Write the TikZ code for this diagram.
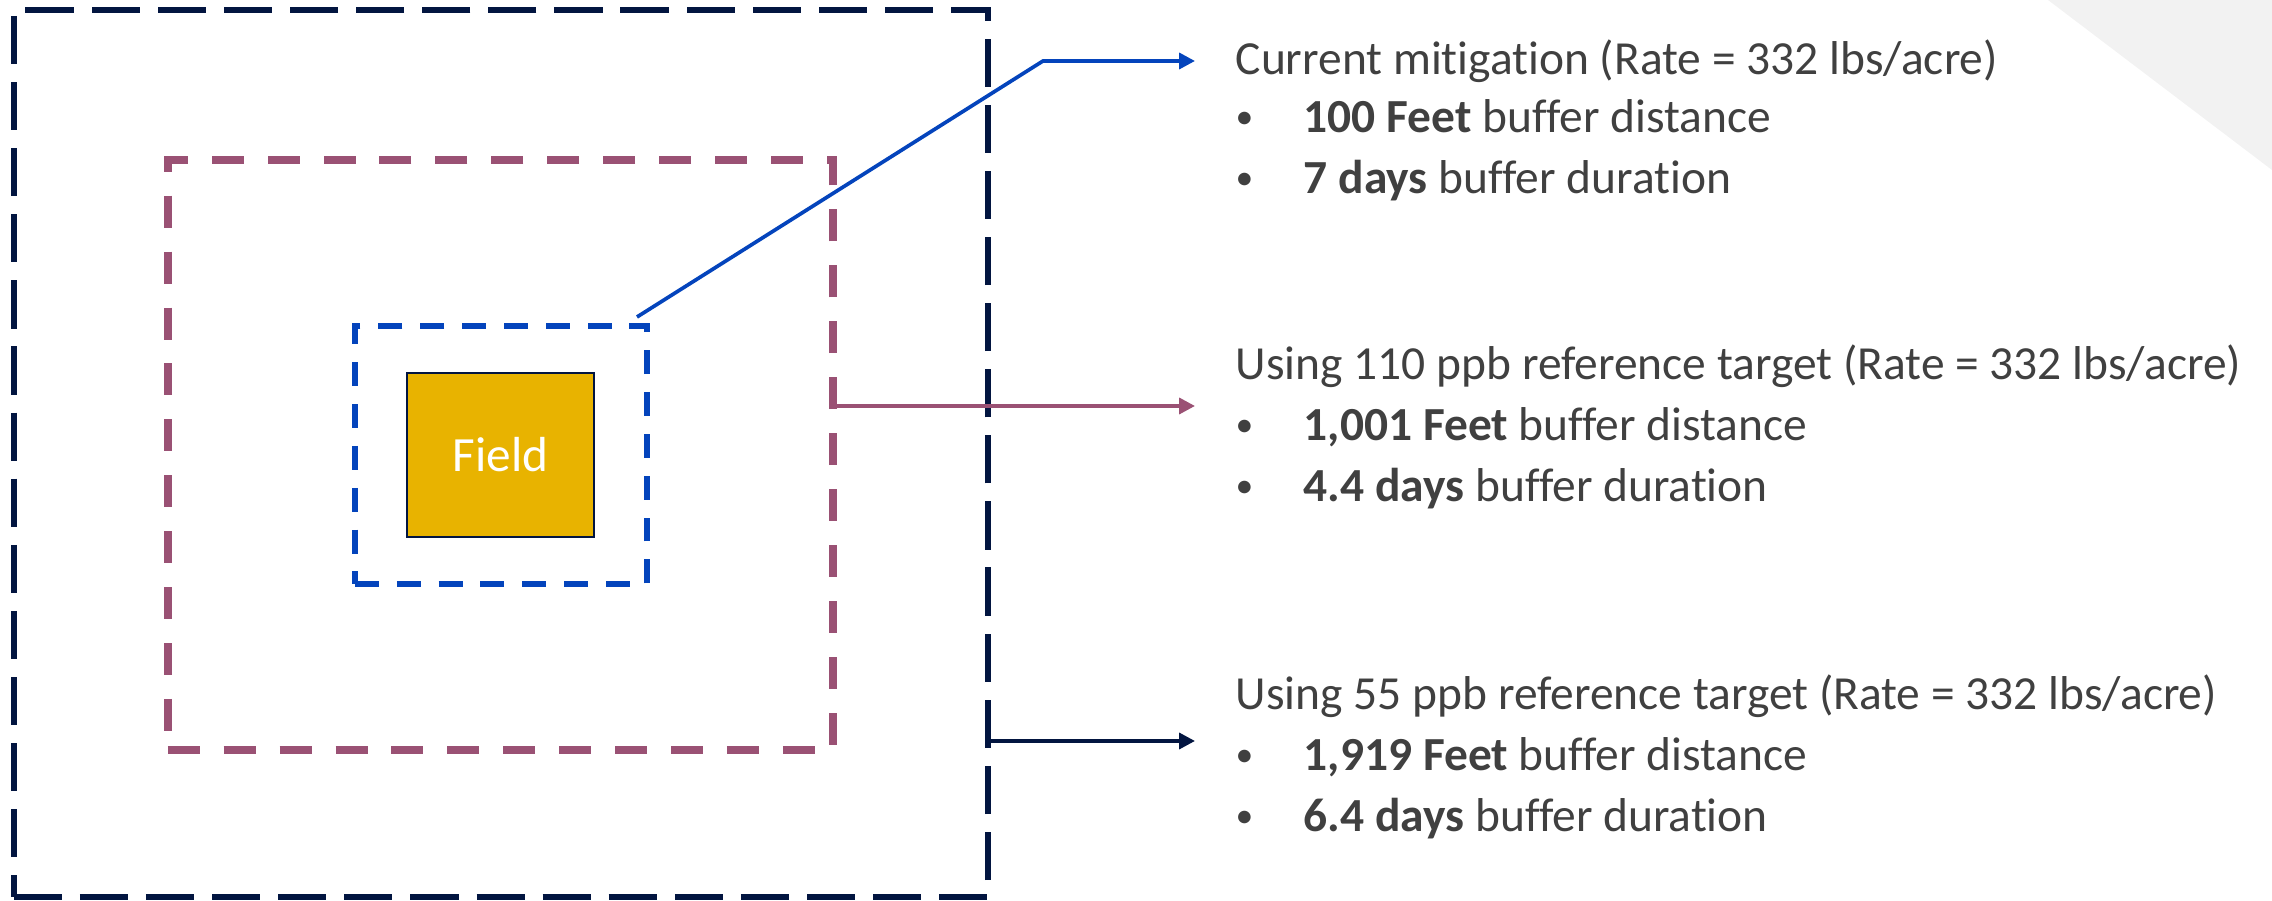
\documentclass[tikz,border=0pt]{standalone}
\usepackage{fontspec}
\setmainfont{Carlito}[Ligatures=NoCommon]
\usetikzlibrary{arrows.meta}
\definecolor{navy}{HTML}{021540}
\definecolor{mauve}{HTML}{9A5174}
\definecolor{royal}{HTML}{0444BC}
\definecolor{gold}{HTML}{E8B300}
\definecolor{textgray}{HTML}{404040}
\definecolor{cornergray}{HTML}{F2F2F2}
\tikzstyle{outerbox} = [rectangle, draw=navy, line width=1.7pt, dash pattern=on 13.7pt off 5.1pt]
\tikzstyle{middlebox} = [rectangle, draw=mauve, line width=2.3pt, dash pattern=on 9.1pt off 6.8pt]
\tikzstyle{innerbox} = [rectangle, draw=royal, line width=1.7pt, dash pattern=on 6.8pt off 5.1pt]
\tikzstyle{fieldbox} = [rectangle, draw=navy, line width=0.7pt, fill=gold, text=white, minimum width=1.87cm, minimum height=1.64cm, font=\fontsize{14}{17}\selectfont]
\tikzstyle{label} = [anchor=base west, inner sep=0pt, text=textgray, font=\fontsize{13.5}{16}\selectfont]
\tikzstyle{arrow} = [line width=1.05pt, -{Triangle[length=4.5pt,width=4.5pt]}]
\newcommand{\bul}{\makebox[0.68cm][l]{\raisebox{1.2pt}{\scalebox{0.75}{\textbullet}}}}

\begin{document}
\begin{tikzpicture}[x=0.01cm, y=-0.01cm]
\useasboundingbox (0,0) rectangle (2272,901);
\fill[cornergray] (2048,0) -- (2272,0) -- (2272,170) -- cycle;

% nested buffer zones
\node (outer) [outerbox, minimum width=9.74cm, minimum height=8.87cm] at (501,453.5) {};
\node (middle) [middlebox, minimum width=6.65cm, minimum height=5.9cm] at (500.5,455) {};
\node (inner) [innerbox, minimum width=2.92cm, minimum height=2.58cm] at (501,455) {};
\node (field) [fieldbox] at (500.5,455) {Field};

% descriptions
\node (cur) [label] at (1235,75) {Current mitigation (Rate = 332 lbs/acre)};
\node (cura) [label] at (1235,133) {\bul\textbf{100 Feet} buffer distance};
\node (curb) [label] at (1235,194) {\bul\textbf{7 days} buffer duration};
\node (ref110) [label] at (1235,380) {Using 110 ppb reference target (Rate = 332 lbs/acre)};
\node (ref110a) [label] at (1235,441) {\bul\textbf{1,001 Feet} buffer distance};
\node (ref110b) [label] at (1235,502) {\bul\textbf{4.4 days} buffer duration};
\node (ref55) [label] at (1235,710) {Using 55 ppb reference target (Rate = 332 lbs/acre)};
\node (ref55a) [label] at (1235,771) {\bul\textbf{1,919 Feet} buffer distance};
\node (ref55b) [label] at (1235,832) {\bul\textbf{6.4 days} buffer duration};

% connectors
\coordinate (start1) at (637,317);
\coordinate (bend1) at (1043,61);
\coordinate (end1) at (1195,61);
\coordinate (end2) at (1195,406);
\coordinate (end3) at (1195,741);
\draw [arrow, royal] (start1) -- (bend1) -- (end1);
\draw [arrow, mauve] (middle.east |- end2) -- (end2);
\draw [arrow, navy] (outer.east |- end3) -- (end3);

\end{tikzpicture}
\end{document}
